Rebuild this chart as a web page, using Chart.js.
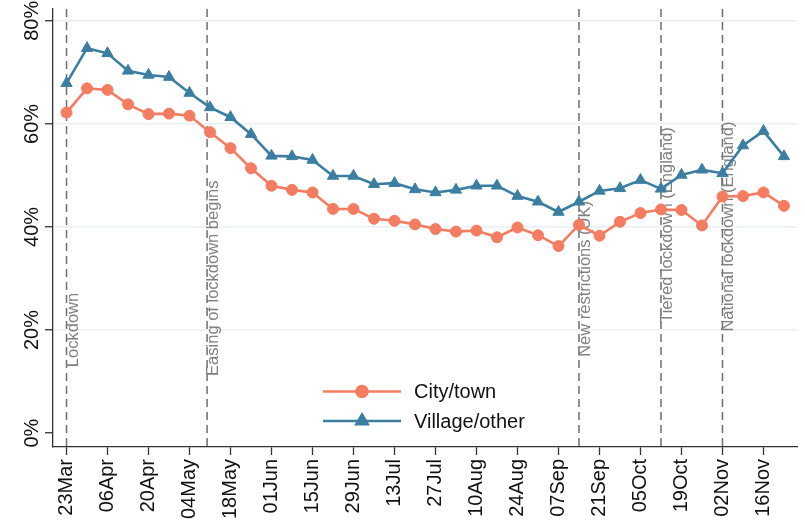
<!DOCTYPE html>
<html>
<head>
<meta charset="utf-8">
<script src="https://cdn.jsdelivr.net/npm/chart.js@4"></script>
<style>
  html, body { margin: 0; padding: 0; background: #fff; }
</style>
</head>
<body>
<canvas id="chart" width="805" height="523"></canvas>
<script>
const canvas = document.getElementById('chart');
const ctx = canvas.getContext('2d');

// weekly dates, one per point
const weeks = ['23Mar', '30Mar', '06Apr', '13Apr', '20Apr', '27Apr', '04May', '11May', '18May', '25May',
  '01Jun', '08Jun', '15Jun', '22Jun', '29Jun', '06Jul', '13Jul', '20Jul', '27Jul', '03Aug',
  '10Aug', '17Aug', '24Aug', '31Aug', '07Sep', '14Sep', '21Sep', '28Sep', '05Oct', '12Oct',
  '19Oct', '26Oct', '02Nov', '09Nov', '16Nov', '23Nov'];

const cityTown = [62.2, 66.9, 66.6, 63.8, 61.9, 62.0, 61.6, 58.4, 55.3, 51.4,
  48.0, 47.2, 46.7, 43.5, 43.5, 41.6, 41.2, 40.5, 39.6, 39.1,
  39.3, 38.0, 39.9, 38.4, 36.3, 40.4, 38.3, 41.0, 42.7, 43.4,
  43.3, 40.3, 45.9, 46.0, 46.7, 44.1];

const villageOther = [67.9, 74.7, 73.7, 70.3, 69.5, 69.1, 66.0, 63.2, 61.3, 58.0,
  53.8, 53.7, 53.0, 49.9, 49.9, 48.3, 48.5, 47.3, 46.7, 47.2,
  48.0, 48.0, 46.0, 44.9, 42.9, 44.9, 47.0, 47.5, 49.1, 47.4,
  50.1, 51.1, 50.4, 55.8, 58.6, 53.7];

// x tick every two weeks
const xTickWeeks = [0, 2, 4, 6, 8, 10, 12, 14, 16, 18, 20, 22, 24, 26, 28, 30, 32, 34];
const xTickLabels = ['23Mar', '06Apr', '20Apr', '04May', '18May', '01Jun', '15Jun', '29Jun', '13Jul',
  '27Jul', '10Aug', '24Aug', '07Sep', '21Sep', '05Oct', '19Oct', '02Nov', '16Nov'];
const yTicks = [0, 20, 40, 60, 80];

// policy events (position in weeks after 23Mar)
const eventWeeks = [0, 48 / 7, 25, 29, 32];
const eventLabels = ['Lockdown', 'Easing of lockdown begins', 'New restrictions (UK)',
  'Tiered lockdown (England)', 'National lockdown (England)'];
const eventLabelY = [12.8, 11.1, 14.8, 21.4, 19.7];

const RED = '#f47c61';
const BLUE = '#3b7ea1';
const FONT = '"Liberation Sans", Arial, sans-serif';

function points(values) {
  return values.map(function(v, i) { return {x: i, y: v}; });
}

const overlay = {
  id: 'overlay',
  beforeDatasetsDraw(chart) {
    const c = chart.ctx;
    const xs = chart.scales.x;
    const ys = chart.scales.y;
    const area = chart.chartArea;
    c.save();
    eventWeeks.forEach(function(w, i) {
      const px = xs.getPixelForValue(w);
      c.strokeStyle = '#6f6f6f';
      c.lineWidth = 1.5;
      c.setLineDash([8, 5]);
      c.beginPath();
      c.moveTo(px, area.top);
      c.lineTo(px, area.bottom);
      c.stroke();
      c.setLineDash([]);
      c.save();
      c.translate(px + 11, ys.getPixelForValue(eventLabelY[i]));
      c.rotate(-Math.PI / 2);
      c.fillStyle = '#808080';
      c.font = '16.5px ' + FONT;
      c.textAlign = 'left';
      c.textBaseline = 'alphabetic';
      c.fillText(eventLabels[i], 0, 0);
      c.restore();
    });
    c.restore();
  },
  afterDraw(chart) {
    const c = chart.ctx;
    const ys = chart.scales.y;
    c.save();
    // rotated y tick labels
    c.fillStyle = '#111';
    c.font = '20px ' + FONT;
    c.textAlign = 'center';
    c.textBaseline = 'alphabetic';
    yTicks.forEach(function(v) {
      c.save();
      c.translate(37.5, ys.getPixelForValue(v));
      c.rotate(-Math.PI / 2);
      c.fillText(v + '%', 0, 0);
      c.restore();
    });
    // legend
    const rows = [391.5, 421];
    chart.data.datasets.forEach(function(ds, i) {
      const ly = rows[i];
      c.strokeStyle = ds.borderColor;
      c.fillStyle = ds.backgroundColor;
      c.lineWidth = ds.borderWidth;
      c.beginPath();
      c.moveTo(323, ly);
      c.lineTo(401, ly);
      c.stroke();
      Chart.helpers.drawPoint(c, {pointStyle: ds.pointStyle, radius: ds.pointRadius, rotation: 0, borderWidth: 1}, 362, ly);
      c.fillStyle = '#111';
      c.font = '20px ' + FONT;
      c.textAlign = 'left';
      c.textBaseline = 'middle';
      c.fillText(ds.label, 414, ly + 1);
    });
    c.restore();
  }
};

const config = {
  type: 'line',
  data: {
    datasets: [{
      label: 'City/town',
      data: points(cityTown),
      borderColor: RED,
      backgroundColor: RED,
      borderWidth: 2.6,
      pointStyle: 'circle',
      pointRadius: 5.5,
      pointBorderWidth: 1,
      tension: 0
    }, {
      label: 'Village/other',
      data: points(villageOther),
      borderColor: BLUE,
      backgroundColor: BLUE,
      borderWidth: 2.6,
      pointStyle: 'triangle',
      pointRadius: 6.5,
      pointBorderWidth: 1,
      tension: 0
    }]
  },
  options: {
    responsive: false,
    animation: false,
    layout: {padding: {top: 9, right: -1, left: 0, bottom: 0}},
    plugins: {
      legend: {display: false},
      tooltip: {enabled: false}
    },
    scales: {
      x: {
        type: 'linear',
        min: -0.66,
        max: 35.66,
        afterBuildTicks: function(scale) {
          scale.ticks = xTickWeeks.map(function(v) { return {value: v}; });
        },
        afterFit: function(scale) {
          scale.height = 76;
          scale.paddingLeft = 0;
          scale.paddingRight = 0;
        },
        ticks: {
          callback: function(value, index) { return xTickLabels[index]; },
          minRotation: 90,
          maxRotation: 90,
          autoSkip: false,
          padding: 4,
          color: '#111',
          font: {family: FONT, size: 20}
        },
        grid: {drawOnChartArea: false, tickLength: 8, tickColor: '#333', tickWidth: 1.3},
        border: {color: '#333', width: 1.3}
      },
      y: {
        min: -2.7,
        max: 82.3,
        afterBuildTicks: function(scale) {
          scale.ticks = yTicks.map(function(v) { return {value: v}; });
        },
        afterFit: function(scale) { scale.width = 53; },
        ticks: {display: false},
        grid: {
          color: function(c) { return c.tick && c.tick.value === 0 ? 'rgba(0,0,0,0)' : '#e9f0f3'; },
          lineWidth: 1.5,
          tickLength: 8,
          tickColor: '#333',
          tickWidth: 1.3
        },
        border: {color: '#333', width: 1.3}
      }
    }
  },
  plugins: [overlay]
};

new Chart(ctx, config);
</script>
</body>
</html>
